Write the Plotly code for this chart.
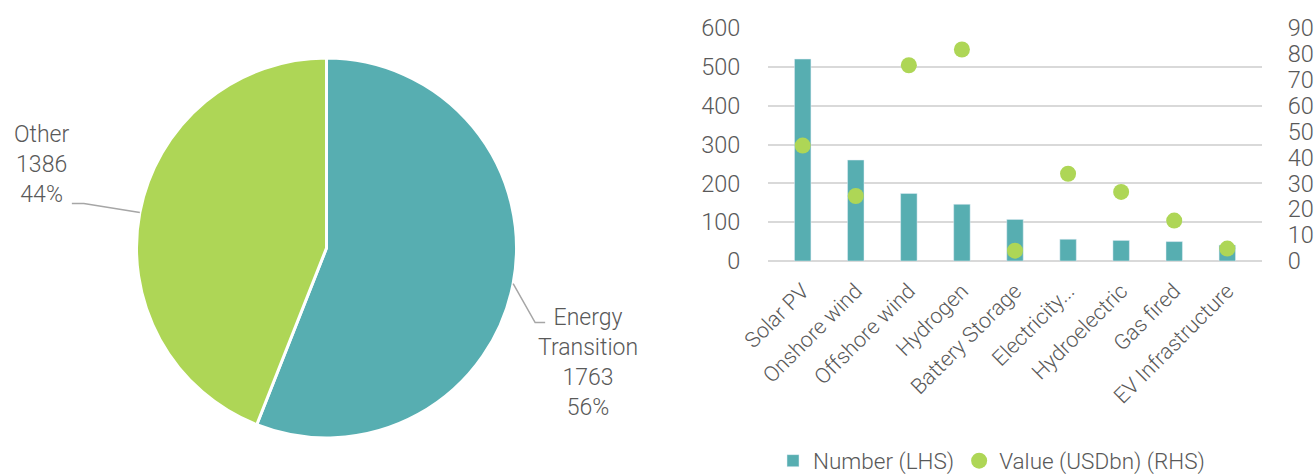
import math
import plotly.graph_objects as go

# ---------------- data ----------------
pie_labels = ["Energy Transition", "Other"]
pie_display = ["Energy<br>Transition", "Other"]
pie_values = [1763, 1386]

categories = ["Solar PV", "Onshore wind", "Offshore wind", "Hydrogen", "Battery Storage",
              "Electricity...", "Hydroelectric", "Gas fired", "EV Infrastructure"]
number_lhs = [520, 260, 174, 146, 107, 56, 53, 50, 41]
value_rhs = [44.6, 25.1, 75.6, 81.7, 4.0, 33.7, 26.7, 15.6, 4.8]

# ---------------- style ----------------
W, H = 1315, 475
TEAL = "#57AEB1"
GREEN = "#AED656"
TXT = "#595959"
GRID = "#D9D9D9"
FONT = "Roboto"
WT = 300


def px(x):
    return x / W


def py(y):
    return 1 - y / H


fig = go.Figure()

# pie
cx, cy, r = 326.5, 248, 190
fig.add_trace(go.Pie(
    labels=pie_labels, values=pie_values, sort=False, direction="clockwise", rotation=0,
    marker=dict(colors=[TEAL, GREEN], line=dict(color="white", width=3)),
    textinfo="none", hoverinfo="label+value+percent", showlegend=False,
    domain=dict(x=[px(cx - r), px(cx + r)], y=[py(cy + r), py(cy - r)]),
))

# bars + dots
fig.add_trace(go.Bar(x=categories, y=number_lhs, name="Number (LHS)", marker_color=TEAL,
                     xaxis="x", yaxis="y"))
fig.add_trace(go.Scatter(x=categories, y=value_rhs, name="Value (USDbn) (RHS)", mode="markers",
                         marker=dict(color=GREEN, size=16), xaxis="x", yaxis="y2"))

# pie labels with leader lines computed from slice midpoints
total = sum(pie_values)
shapes = []
annotations = []
cum = 0
label_pos = {
    "Energy Transition": dict(text_x=588, text_y=362, elbow_dx=22, elbow_dy=39, tail=10),
    "Other": dict(text_x=42, text_y=164, elbow_dx=-56, elbow_dy=-9, tail=-12),
}
for lab, disp, v in zip(pie_labels, pie_display, pie_values):
    mid = (cum + v / 2) / total * 2 * math.pi
    cum += v
    ex = cx + r * math.sin(mid)
    ey = cy - r * math.cos(mid)
    p = label_pos[lab]
    elbow_x = ex + p["elbow_dx"]
    elbow_y = ey + p["elbow_dy"]
    end_x = elbow_x + p["tail"]
    shapes.append(dict(
        type="path", xref="paper", yref="paper",
        path=f"M {px(ex)} {py(ey)} L {px(elbow_x)} {py(elbow_y)} L {px(end_x)} {py(elbow_y)}",
        line=dict(color="#A6A6A6", width=1.5),
    ))
    pct = round(v / total * 100)
    annotations.append(dict(
        x=px(p["text_x"]), y=py(p["text_y"]), xref="paper", yref="paper",
        text=f"{disp}<br>{v}<br>{pct}%", showarrow=False, align="center",
        xanchor="center", yanchor="middle",
        font=dict(size=23, color=TXT, family=FONT, weight=WT),
    ))

fig.update_layout(
    width=W, height=H,
    margin=dict(l=0, r=0, t=0, b=0, autoexpand=False),
    paper_bgcolor="white", plot_bgcolor="white",
    font=dict(family=FONT, color=TXT, size=21, weight=WT),
    bargap=0.69,
    xaxis=dict(domain=[px(768), px(1262)], tickangle=-45, showgrid=False, showline=False,
               ticks="outside", ticklen=8, tickcolor="rgba(0,0,0,0)",
               tickfont=dict(size=21.5, color=TXT, weight=WT), anchor="y",
               automargin=False),
    yaxis=dict(domain=[py(261), py(28)], range=[0, 600], dtick=100, showgrid=True,
               gridcolor=GRID, gridwidth=1.5, zeroline=True, zerolinecolor=GRID, zerolinewidth=1.5,
               tickfont=dict(size=23.5, color=TXT, weight=WT), ticklen=22, ticks="outside",
               tickcolor="rgba(0,0,0,0)", anchor="x", automargin=False),
    yaxis2=dict(overlaying="y", side="right", range=[0, 90], dtick=10, showgrid=False,
                zeroline=False, tickfont=dict(size=23.5, color=TXT, weight=WT), anchor="x",
                ticks="outside", ticklen=20, tickcolor="rgba(0,0,0,0)", automargin=False),
    legend=dict(orientation="h", x=px(773), y=py(461), xanchor="left", yanchor="middle",
                font=dict(size=22.5, color=TXT, weight=WT), itemwidth=30,
                traceorder="normal"),
    shapes=shapes, annotations=annotations,
)

fig.write_html("out.html", post_script="document.body.style.margin='0';",
               config={"displayModeBar": False})
